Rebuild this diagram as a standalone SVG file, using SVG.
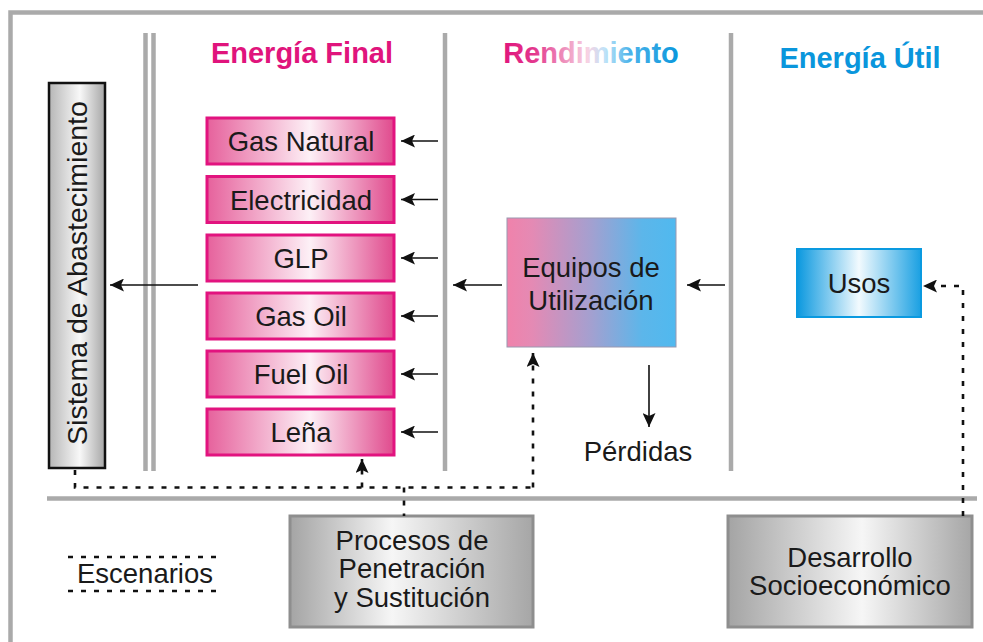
<svg xmlns="http://www.w3.org/2000/svg" width="983" height="642" viewBox="0 0 983 642">
<defs>
<linearGradient id="gPink" x1="0" y1="0" x2="1" y2="0">
<stop offset="0" stop-color="#e6619c"/><stop offset="0.55" stop-color="#fdf0f6"/><stop offset="1" stop-color="#e04a8d"/>
</linearGradient>
<linearGradient id="gBlue" x1="0" y1="0" x2="1" y2="0">
<stop offset="0" stop-color="#0a98df"/><stop offset="0.5" stop-color="#f2fafe"/><stop offset="1" stop-color="#1aa0e2"/>
</linearGradient>
<linearGradient id="gEq" x1="0" y1="0" x2="1" y2="0">
<stop offset="0" stop-color="#f082ab"/><stop offset="0.15" stop-color="#e48ab4"/><stop offset="0.5" stop-color="#a3a0d0"/><stop offset="0.8" stop-color="#5cb6ea"/><stop offset="1" stop-color="#50b9ef"/>
</linearGradient>
<linearGradient id="gGray" x1="0" y1="0" x2="1" y2="0">
<stop offset="0" stop-color="#a4a4a4"/><stop offset="0.42" stop-color="#f6f6f6"/><stop offset="1" stop-color="#a6a6a6"/>
</linearGradient>
<linearGradient id="gGray2" x1="0" y1="0" x2="1" y2="0">
<stop offset="0" stop-color="#a4a4a4"/><stop offset="0.55" stop-color="#f6f6f6"/><stop offset="1" stop-color="#a6a6a6"/>
</linearGradient>
<linearGradient id="gSis" x1="0" y1="0" x2="1" y2="0">
<stop offset="0" stop-color="#b6b6b6"/><stop offset="0.55" stop-color="#f8f8f8"/><stop offset="1" stop-color="#a6a6a6"/>
</linearGradient>
<linearGradient id="gRend" gradientUnits="userSpaceOnUse" x1="503" y1="0" x2="679" y2="0">
<stop offset="0" stop-color="#e0157c"/><stop offset="0.18" stop-color="#e3388e"/><stop offset="0.38" stop-color="#f0a2c6"/><stop offset="0.48" stop-color="#f8d2e3"/><stop offset="0.58" stop-color="#bfe3f8"/><stop offset="0.72" stop-color="#4db3ea"/><stop offset="1" stop-color="#0a96dc"/>
</linearGradient>
<marker id="ah" markerUnits="userSpaceOnUse" markerWidth="15" markerHeight="13" refX="14" refY="6.5" orient="auto">
<path d="M0,0 L14,6.5 L0,13 L3,6.5 z" fill="#111"/>
</marker>
<style>
.frame{stroke:#aaaaaa;stroke-width:4.5;fill:none}
.title{font-family:"Liberation Sans",Arial,sans-serif;font-weight:bold;font-size:29px;text-anchor:middle}
.lbl{font-family:"Liberation Sans",Arial,sans-serif;font-size:27.5px;fill:#1a1a1a;text-anchor:middle}
.pink{fill:url(#gPink);stroke:#e2137f;stroke-width:3}
.gray{stroke:#8e8e8e;stroke-width:3}
.arr{stroke:#111;stroke-width:1.6;fill:none;marker-end:url(#ah)}
.dot{stroke:#111;stroke-width:2.6;fill:none;stroke-dasharray:5 8}
.dota{stroke:#111;stroke-width:2.6;fill:none;stroke-dasharray:5 8;marker-end:url(#ah)}
</style>
</defs>
<rect width="983" height="642" fill="#ffffff"/>
<g id="frame">
<path class="frame" d="M10.5,642 V12.5 H983"/>
<line class="frame" x1="145.5" y1="33" x2="145.5" y2="471"/>
<line class="frame" x1="153.5" y1="33" x2="153.5" y2="471"/>
<line class="frame" x1="445" y1="33" x2="445" y2="471"/>
<line class="frame" x1="731" y1="33" x2="731" y2="471"/>
<line class="frame" x1="47" y1="498.5" x2="977" y2="498.5"/>
</g>
<g id="titles">
<text class="title" x="302" y="63" fill="#e0147c">Energía Final</text>
<text class="title" x="591" y="63" fill="url(#gRend)">Rendimiento</text>
<text class="title" x="860" y="68" fill="#0a96dc">Energía Útil</text>
</g>
<g id="sistema">
<rect x="49" y="83" width="56" height="385" fill="url(#gSis)" stroke="#111" stroke-width="2.5"/>
<text class="lbl" style="font-size:28.5px" transform="translate(87,273) rotate(-90)">Sistema de Abastecimiento</text>
</g>
<g id="gas-natural"><rect class="pink" x="207" y="118" width="187" height="46"/><text class="lbl" x="301" y="151">Gas Natural</text></g>
<g id="electricidad"><rect class="pink" x="207" y="176.5" width="187" height="46"/><text class="lbl" x="301" y="209.5">Electricidad</text></g>
<g id="glp"><rect class="pink" x="207" y="235" width="187" height="46"/><text class="lbl" x="301" y="268">GLP</text></g>
<g id="gas-oil"><rect class="pink" x="207" y="293" width="187" height="46"/><text class="lbl" x="301" y="326">Gas Oil</text></g>
<g id="fuel-oil"><rect class="pink" x="207" y="351" width="187" height="46"/><text class="lbl" x="301" y="384">Fuel Oil</text></g>
<g id="lena"><rect class="pink" x="207" y="409" width="187" height="46"/><text class="lbl" x="301" y="442">Leña</text></g>
<g id="equipos">
<rect x="507" y="218" width="169" height="129" fill="url(#gEq)" stroke="#9a98b0" stroke-width="1"/>
<text class="lbl" x="591" y="277">Equipos de</text>
<text class="lbl" x="591" y="310">Utilización</text>
</g>
<g id="perdidas"><text class="lbl" x="638" y="461">Pérdidas</text></g>
<g id="usos">
<rect x="797" y="249" width="124" height="68" fill="url(#gBlue)" stroke="#0a9ae0" stroke-width="2"/>
<text class="lbl" x="859" y="293">Usos</text>
</g>
<g id="escenarios">
<line class="dot" x1="68" y1="557" x2="222" y2="557"/>
<line class="dot" x1="68" y1="591" x2="222" y2="591"/>
<text class="lbl" x="145" y="583">Escenarios</text>
</g>
<g id="procesos">
<rect class="gray" fill="url(#gGray)" x="290" y="516" width="243" height="111"/>
<text class="lbl" x="412" y="550">Procesos de</text>
<text class="lbl" x="412" y="578">Penetración</text>
<text class="lbl" x="412" y="607">y Sustitución</text>
</g>
<g id="desarrollo">
<rect class="gray" fill="url(#gGray2)" x="728" y="516" width="244" height="111"/>
<text class="lbl" x="850" y="567">Desarrollo</text>
<text class="lbl" x="850" y="595">Socioeconómico</text>
</g>
<g id="connectors">
<line class="arr" x1="438" y1="141" x2="401" y2="141"/>
<line class="arr" x1="438" y1="199.5" x2="401" y2="199.5"/>
<line class="arr" x1="438" y1="258" x2="401" y2="258"/>
<line class="arr" x1="438" y1="316" x2="401" y2="316"/>
<line class="arr" x1="438" y1="374" x2="401" y2="374"/>
<line class="arr" x1="438" y1="432" x2="401" y2="432"/>
<line class="arr" x1="198" y1="285" x2="110" y2="285"/>
<line class="arr" x1="502" y1="285" x2="453" y2="285"/>
<line class="arr" x1="725" y1="285" x2="687" y2="285"/>
<line class="arr" x1="649" y1="365" x2="649" y2="427"/>
<path class="dot" d="M75,470 V487.5 H533"/>
<line class="dota" x1="533" y1="487.5" x2="533" y2="353"/>
<line class="dota" x1="362" y1="487.5" x2="362" y2="459"/>
<line class="dot" x1="404" y1="487.5" x2="404" y2="516"/>
<path class="dota" d="M963,516 V286 H923"/>
</g>
</svg>
